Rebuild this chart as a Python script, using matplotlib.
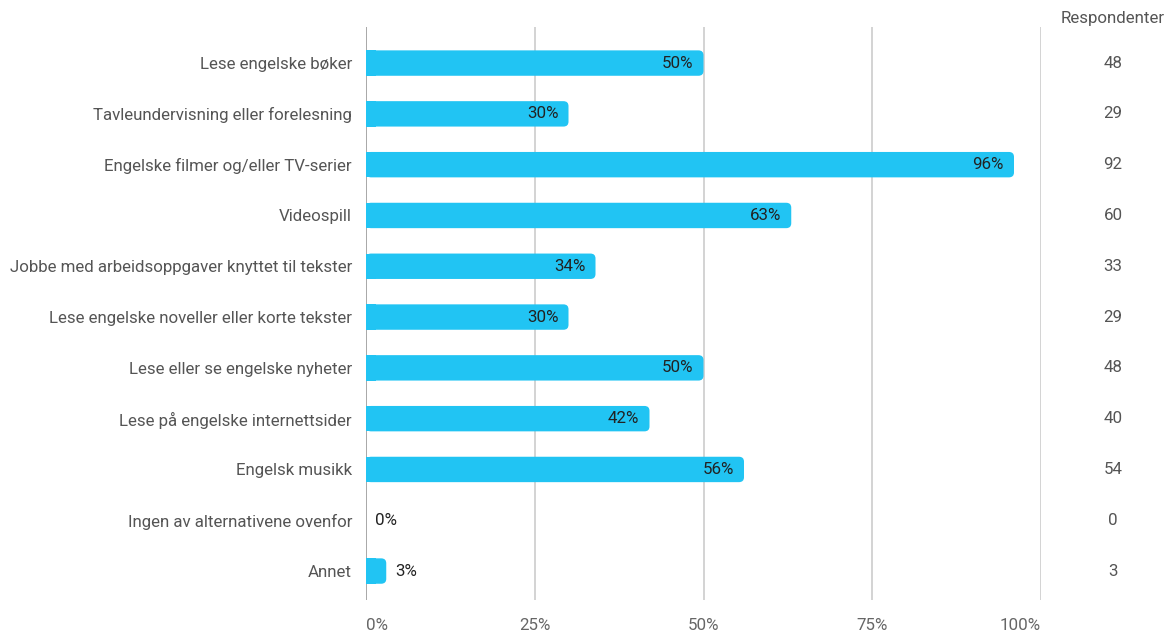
import matplotlib.pyplot as plt
from matplotlib.patches import FancyBboxPatch
from matplotlib.transforms import blended_transform_factory

plt.rcParams['font.family'] = ['Roboto', 'DejaVu Sans']

categories = [
    "Lese engelske bøker",
    "Tavleundervisning eller forelesning",
    "Engelske filmer og/eller TV-serier",
    "Videospill",
    "Jobbe med arbeidsoppgaver knyttet til tekster",
    "Lese engelske noveller eller korte tekster",
    "Lese eller se engelske nyheter",
    "Lese på engelske internettsider",
    "Engelsk musikk",
    "Ingen av alternativene ovenfor",
    "Annet",
]
percent = [50, 30, 96, 63, 34, 30, 50, 42, 56, 0, 3]
respondents = [48, 29, 92, 60, 33, 29, 48, 40, 54, 0, 3]
ticks = [0, 25, 50, 75, 100]
tick_labels = ["0%", "25%", "50%", "75%", "100%"]

W, H = 1172, 632
fig = plt.figure(figsize=(W / 100, H / 100), dpi=100)
ax = fig.add_axes([366 / W, 1 - 600 / H, (1041 - 366) / W, (600 - 27) / H])

bar_color = "#21c4f3"
bar_h = 0.5
r = 0.75              # corner radius in x units (~5 px)
aspect = 0.13         # y/x unit ratio so the corners stay round
fs = 12.2

ys = list(range(len(categories)))

# square left part of each bar, rounded right end drawn on top
ax.barh(ys, [min(p, 2 * r) for p in percent], height=bar_h, color=bar_color, zorder=3)
for y, p in zip(ys, percent):
    if p <= 0:
        continue
    ax.add_patch(FancyBboxPatch((0, y - bar_h / 2), p, bar_h,
                                boxstyle=f"round,pad=0,rounding_size={r}",
                                mutation_aspect=aspect,
                                fc=bar_color, ec="none", zorder=3))

for y, p in zip(ys, percent):
    if p >= 10:
        ax.text(p - 1.5, y, f"{p}%", ha="right", va="center",
                fontsize=fs, color="#222222", zorder=4)
    else:
        ax.text(p + 1.4, y, f"{p}%", ha="left", va="center",
                fontsize=fs, color="#222222", zorder=4)

ax.set_xlim(0, 100)
ax.set_ylim(10.57, -0.71)

for t in ticks:
    ax.axvline(t, color="#999999" if t == 0 else "#cccccc", lw=1.2, zorder=1)

ax.set_xticks(ticks)
ax.set_xticklabels(tick_labels, fontsize=fs, color="#666666")
# keep the end labels inside the plot width
xlabels = ax.get_xticklabels()
xlabels[0].set_horizontalalignment("left")
xlabels[-1].set_horizontalalignment("right")
ax.set_yticks(ys)
ax.set_yticklabels(categories, fontsize=fs, color="#555555")
ax.tick_params(axis="both", length=0)
ax.tick_params(axis="y", pad=10)
ax.tick_params(axis="x", pad=13)
for s in ax.spines.values():
    s.set_visible(False)

# respondent counts column
trans = blended_transform_factory(fig.transFigure, ax.transData)
for y, n in zip(ys, respondents):
    ax.text(1113 / W, y, str(n), transform=trans, ha="center", va="center",
            fontsize=fs, color="#555555", clip_on=False)
fig.text(1113 / W, 1 - 18 / H, "Respondenter", ha="center", va="center",
         fontsize=fs, color="#555555")

fig.savefig("out.png", dpi=100, facecolor="white")
